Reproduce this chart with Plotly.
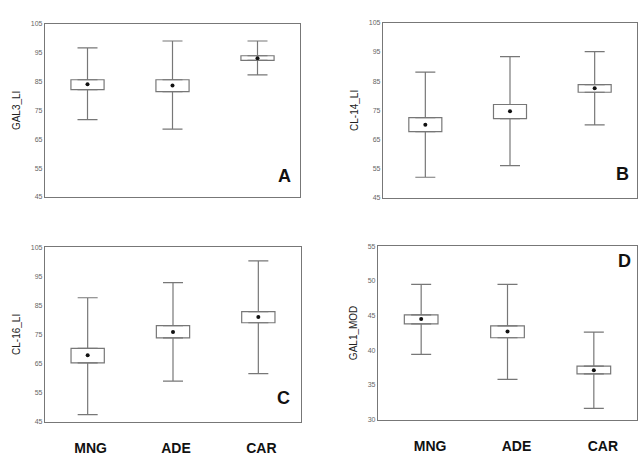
import plotly.graph_objects as go

categories = ["MNG", "ADE", "CAR"]

a_mean = [84.0, 83.6, 93.0]
a_box_lo = [82.2, 81.5, 92.3]
a_box_hi = [85.6, 85.6, 93.9]
a_wh_lo = [71.8, 68.5, 87.3]
a_wh_hi = [96.6, 99.0, 99.0]

b_mean = [70.1, 74.7, 82.6]
b_box_lo = [67.7, 72.2, 81.2]
b_box_hi = [72.5, 77.0, 83.8]
b_wh_lo = [52.1, 56.1, 70.0]
b_wh_hi = [88.1, 93.4, 95.1]

c_mean = [67.8, 75.8, 81.0]
c_box_lo = [65.2, 73.8, 79.0]
c_box_hi = [70.2, 78.0, 82.8]
c_wh_lo = [47.4, 58.9, 61.5]
c_wh_hi = [87.6, 92.8, 100.3]

d_mean = [44.5, 42.7, 37.1]
d_box_lo = [43.8, 41.8, 36.6]
d_box_hi = [45.1, 43.5, 37.7]
d_wh_lo = [39.4, 35.8, 31.6]
d_wh_hi = [49.5, 49.5, 42.6]

panels = [
    dict(name="A", ytitle="GAL3_LI", mean=a_mean, blo=a_box_lo, bhi=a_box_hi, wlo=a_wh_lo, whi=a_wh_hi,
         yticks=[45, 55, 65, 75, 85, 95, 105], yrange=[45, 105]),
    dict(name="B", ytitle="CL-14_LI", mean=b_mean, blo=b_box_lo, bhi=b_box_hi, wlo=b_wh_lo, whi=b_wh_hi,
         yticks=[45, 55, 65, 75, 85, 95, 105], yrange=[45, 105]),
    dict(name="C", ytitle="CL-16_LI", mean=c_mean, blo=c_box_lo, bhi=c_box_hi, wlo=c_wh_lo, whi=c_wh_hi,
         yticks=[45, 55, 65, 75, 85, 95, 105], yrange=[45, 105]),
    dict(name="D", ytitle="GAL1_MOD", mean=d_mean, blo=d_box_lo, bhi=d_box_hi, wlo=d_wh_lo, whi=d_wh_hi,
         yticks=[30, 35, 40, 45, 50, 55], yrange=[30, 55]),
]

W, H = 638, 458
# pixel boxes: (left, right, top, bottom)
pix = [(45, 300, 20, 196), (383, 637, 19, 197), (45, 301, 247, 424), (378, 637, 246, 422)]
letter_pos = [(284, 175), (622, 173), (283, 400), (624, 261)]
shift = [0, 0, 3, 9]

LINE = "#777777"
fig = go.Figure()
layout = dict(width=W, height=H, margin=dict(l=0, r=0, t=0, b=0),
              paper_bgcolor="white", plot_bgcolor="white", showlegend=False,
              barmode="overlay", font=dict(family="Liberation Sans, Arial", color="#222"))
annotations = []

for i, p in enumerate(panels):
    n = i + 1
    xa = "x" if n == 1 else f"x{n}"
    ya = "y" if n == 1 else f"y{n}"
    l, r, t, b = pix[i]
    heights = [hi - lo for hi, lo in zip(p["bhi"], p["blo"])]
    fig.add_trace(go.Bar(x=categories, y=heights, base=p["blo"], width=0.39,
                         marker=dict(color="white", line=dict(color=LINE, width=1.2)),
                         xaxis=xa, yaxis=ya, hoverinfo="skip"))
    up = [w - bh for w, bh in zip(p["whi"], p["bhi"])]
    dn = [bl - w for bl, w in zip(p["blo"], p["wlo"])]
    fig.add_trace(go.Scatter(x=categories, y=p["bhi"], mode="markers", marker=dict(size=1, opacity=0),
                             error_y=dict(type="data", symmetric=False, array=up, arrayminus=[0, 0, 0],
                                          color=LINE, thickness=1.2, width=10),
                             xaxis=xa, yaxis=ya))
    fig.add_trace(go.Scatter(x=categories, y=p["blo"], mode="markers", marker=dict(size=1, opacity=0),
                             error_y=dict(type="data", symmetric=False, array=[0, 0, 0], arrayminus=dn,
                                          color=LINE, thickness=1.2, width=10),
                             xaxis=xa, yaxis=ya))
    fig.add_trace(go.Scatter(x=categories, y=p["mean"], mode="markers",
                             marker=dict(size=4, color="#111"), xaxis=xa, yaxis=ya))

    xkey = "xaxis" if n == 1 else f"xaxis{n}"
    ykey = "yaxis" if n == 1 else f"yaxis{n}"
    show_x = n in (3, 4)
    layout[xkey] = dict(domain=[l / W, r / W], anchor=ya, type="category",
                        range=[-0.5, 2.5], showgrid=False, zeroline=False,
                        showline=True, mirror=True, linecolor=LINE, linewidth=1.2,
                        ticks="", showticklabels=show_x,
                        tickfont=dict(size=14, color="#111", family="Liberation Sans, Arial", weight="bold"),
                        ticklabelstandoff=14, ticklabelshift=shift[i])
    layout[ykey] = dict(domain=[1 - b / H, 1 - t / H], anchor=xa, range=p["yrange"],
                        tickvals=p["yticks"], showgrid=False, zeroline=False,
                        showline=True, mirror=True, linecolor=LINE, linewidth=1.2,
                        ticks="", tickfont=dict(size=7, color="#666"),
                        title=dict(text=p["ytitle"], font=dict(size=10, color="#222"), standoff=8))
    lx, ly = letter_pos[i]
    annotations.append(dict(text=f"<b>{p['name']}</b>", x=lx / W, y=1 - ly / H, xref="paper", yref="paper",
                            showarrow=False, font=dict(size=18, color="#111"),
                            xanchor="center", yanchor="middle"))

layout["annotations"] = annotations
fig.update_layout(**layout)
fig.write_html("out.html", config={"displayModeBar": False},
               post_script="document.body.style.margin='0';document.body.style.overflow='hidden';")
